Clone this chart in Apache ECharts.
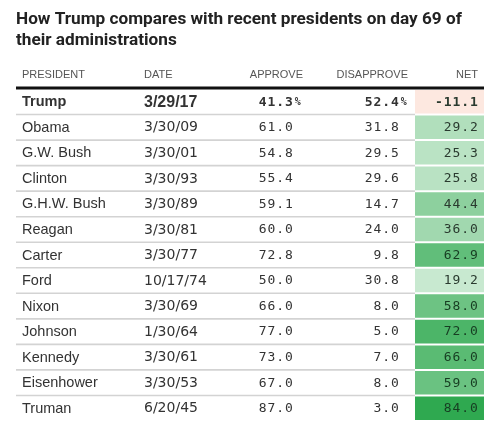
<!DOCTYPE html>
<html>
<head>
<meta charset="utf-8">
<script src="https://cdn.jsdelivr.net/npm/echarts@6/dist/echarts.min.js"></script>
<style>
html,body{margin:0;padding:0;background:#fff;}
#chart{width:500px;height:433px;}
</style>
</head>
<body>
<div id="chart"></div>
<script>
const presidents = ['Trump','Obama','G.W. Bush','Clinton','G.H.W. Bush','Reagan','Carter','Ford','Nixon','Johnson','Kennedy','Eisenhower','Truman'];
const dates = ['3/29/17','3/30/09','3/30/01','3/30/93','3/30/89','3/30/81','3/30/77','10/17/74','3/30/69','1/30/64','3/30/61','3/30/53','6/20/45'];
const approve = [41.3,61.0,54.8,55.4,59.1,60.0,72.8,50.0,66.0,77.0,73.0,67.0,87.0];
const disapprove = [52.4,31.8,29.5,29.6,14.7,24.0,9.8,30.8,8.0,5.0,7.0,8.0,3.0];
const net = [-11.1,29.2,25.3,25.8,44.4,36.0,62.9,19.2,58.0,72.0,66.0,59.0,84.0];
const headers = ['PRESIDENT','DATE','APPROVE','DISAPPROVE','NET'];
const titleText = 'How Trump compares with recent presidents on day 69 of\ntheir administrations';

const SANS = '"Liberation Sans", Arial, sans-serif';
const DSANS = '"DejaVu Sans", sans-serif';
const MONO = '"DejaVu Sans Mono", monospace';
const PITCH = 8.8;

function netColor(v){
  if (v < 0) return '#fde8e0';
  const lo=[210,237,216], hi=[45,168,78];
  let t=(v-15)/70; t=Math.max(0,Math.min(1,t));
  const c=lo.map((a,k)=>Math.round(a+(hi[k]-a)*t));
  return 'rgb('+c.join(',')+')';
}

const chart = echarts.init(document.getElementById('chart'), null, {renderer:'canvas'});

const colX = {name:6, date:128, appr:277, dis:383, netR:462, cellL:399, cellR:468};

// spaced monospace characters, right edge at xR
function spaced(str, xR, y, font, fill){
  const out=[]; const n=str.length;
  for (let k=0;k<n;k++){
    const cx = xR - 4 - (n-1-k)*PITCH;
    out.push({type:'text', x:cx, y:y, style:{text:str[k], font:font, fill:fill, align:'center', verticalAlign:'middle'}});
  }
  return out;
}

const option = {
  animation:false,
  backgroundColor:'#ffffff',
  title:{
    text:titleText, left:16, top:9, padding:0,
    textStyle:{fontFamily:'Roboto, sans-serif', fontWeight:'bold', fontSize:17.2, color:'#222', lineHeight:21}
  },
  grid:{left:16, right:16, top:89, bottom:12},
  xAxis:{type:'value', min:0, max:468, show:false},
  yAxis:{type:'category', data:presidents, inverse:true, show:false},
  graphic:[
    {type:'text', left:22, top:69.5, style:{text:headers[0], font:'11px '+SANS, fill:'#555'}},
    {type:'text', left:144, top:69.5, style:{text:headers[1], font:'11px '+SANS, fill:'#555'}},
    {type:'text', right:197, top:69.5, style:{text:headers[2], font:'11px '+SANS, fill:'#555'}},
    {type:'text', right:92, top:69.5, style:{text:headers[3], font:'11px '+SANS, fill:'#555'}},
    {type:'text', right:22, top:69.5, style:{text:headers[4], font:'11px '+SANS, fill:'#555'}}
  ],
  series:[{
    type:'custom',
    data:presidents.map((p,i)=>[i, approve[i], disapprove[i], net[i]]),
    renderItem:function(params, api){
      const i = api.value(0);
      const c = api.coord([0, i]);
      const h = api.size([0,1])[1];
      const yTop = c[1]-h/2, yBot = c[1]+h/2;
      const X = v => api.coord([v, i])[0];
      const bold = i===0;
      const nameFont = (bold?'bold ':'')+'14.5px '+SANS;
      const dateFont = bold ? 'bold 16px '+SANS : '14px '+DSANS;
      const numFont = (bold?'bold ':'')+'13px '+MONO;
      const y = c[1]+0.5;
      let children = [];
      children.push({type:'rect', shape:{x:X(colX.cellL), y:yTop+1, width:X(colX.cellR)-X(colX.cellL), height:h-2}, style:{fill:netColor(net[i])}});
      if (i===0) {
        children.push({type:'line', shape:{x1:X(0), y1:yTop-1, x2:X(468), y2:yTop-1}, style:{stroke:'#111', lineWidth:3}});
      }
      if (i < presidents.length-1) {
        children.push({type:'line', shape:{x1:X(0), y1:yBot, x2:X(colX.cellL), y2:yBot}, style:{stroke:'#d3d3d3', lineWidth:1.6}});
      }
      children.push({type:'text', x:X(colX.name), y:y, style:{text:presidents[i], font:nameFont, fill:'#333', align:'left', verticalAlign:'middle'}});
      children.push({type:'text', x:X(colX.date), y:y, style:{text:dates[i], font:dateFont, fill:'#333', align:'left', verticalAlign:'middle'}});
      children = children.concat(spaced(approve[i].toFixed(1), X(colX.appr), y, numFont, '#333'));
      children = children.concat(spaced(disapprove[i].toFixed(1), X(colX.dis), y, numFont, '#333'));
      if (i===0) {
        children = children.concat(spaced('%', X(colX.appr)+PITCH, y, 'bold 10px '+MONO, '#333'));
        children = children.concat(spaced('%', X(colX.dis)+PITCH, y, 'bold 10px '+MONO, '#333'));
      }
      const netFill = net[i] > 55 ? '#173d22' : '#2a3a2f';
      children = children.concat(spaced(net[i].toFixed(1), X(colX.netR), y, numFont, netFill));
      return {type:'group', children:children};
    }
  }]
};
chart.setOption(option);
</script>
</body>
</html>
